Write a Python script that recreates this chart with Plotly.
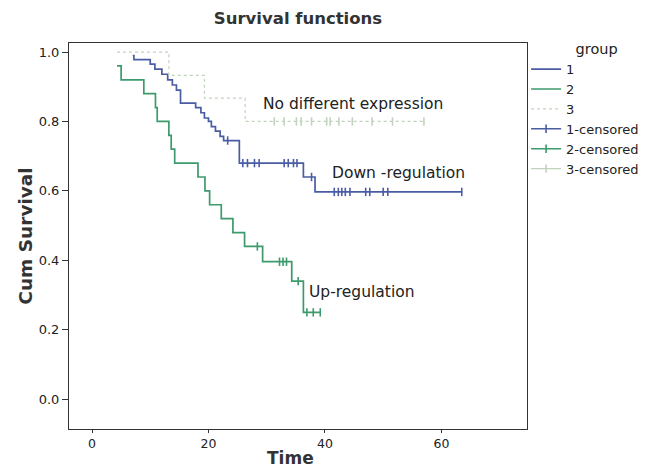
import plotly.graph_objects as go

# ---- data ----
# group 1 (Down-regulation): step times and survival after each step
g1_times = [7.0, 7.2, 10.0, 10.8, 12.0, 13.0, 13.8, 14.5, 15.2, 17.8, 18.7, 19.3, 20.0, 20.5, 21.2, 22.0, 22.6, 25.3, 36.3, 38.3, 63.5]
g1_surv = [0.99, 0.978, 0.965, 0.951, 0.936, 0.92, 0.905, 0.89, 0.853, 0.84, 0.825, 0.81, 0.80, 0.785, 0.772, 0.757, 0.745, 0.68, 0.64, 0.597, 0.597]
g1_cens_t = [23.3, 25.9, 26.7, 27.9, 28.7, 33.0, 33.7, 34.6, 35.2, 37.7,
             41.6, 42.3, 42.9, 43.5, 44.3, 47.0, 47.7, 50.0, 50.8, 63.5]
g1_cens_s = [0.745, 0.68, 0.68, 0.68, 0.68, 0.68, 0.68, 0.68, 0.68, 0.64,
             0.597, 0.597, 0.597, 0.597, 0.597, 0.597, 0.597, 0.597, 0.597, 0.597]

# group 2 (Up-regulation)
g2_times = [4.3, 5.0, 8.9, 10.9, 11.2, 13.2, 13.6, 14.2, 18.2, 19.4, 20.2, 22.2, 24.2, 26.2, 29.3, 34.3, 36.3, 39.2]
g2_surv = [0.96, 0.92, 0.88, 0.84, 0.80, 0.76, 0.72, 0.68, 0.64, 0.60, 0.56, 0.52, 0.48, 0.44, 0.396, 0.34, 0.25, 0.25]
g2_cens_t = [28.4, 32.2, 32.8, 33.4, 35.4, 36.9, 38.0, 39.2]
g2_cens_s = [0.44, 0.396, 0.396, 0.396, 0.34, 0.25, 0.25, 0.25]

# group 3 (No different expression)
g3_times = [4.3, 13.2, 19.3, 26.3, 57.0]
g3_surv = [1.0, 0.933, 0.867, 0.80, 0.80]
g3_cens_t = [31.3, 33.0, 35.1, 35.9, 37.7, 40.3, 40.9, 42.4, 44.7, 48.1, 51.6, 57.0]
g3_cens_s = [0.80] * 12

x_ticks = [0, 20, 40, 60]
y_ticks = [0.0, 0.2, 0.4, 0.6, 0.8, 1.0]

labels = {"g3": "No different expression", "g1": "Down -regulation", "g2": "Up-regulation"}
x_title = "Time"
y_title = "Cum Survival"

BLUE = "#4a5da3"
GREEN = "#3d9a6c"
GRAY = "#c2d3bd"
FONT = "DejaVu Sans"


def isolated(xs, ys):
    ox, oy = [], []
    for a, b in zip(xs, ys):
        ox += [a, None]
        oy += [b, None]
    return ox, oy


fig = go.Figure()
fig.add_trace(go.Scatter(x=g1_times, y=g1_surv, mode="lines", line=dict(color=BLUE, width=1.7, shape="hv"), name="1"))
fig.add_trace(go.Scatter(x=g2_times, y=g2_surv, mode="lines", line=dict(color=GREEN, width=1.7, shape="hv"), name="2"))
fig.add_trace(go.Scatter(x=g3_times, y=g3_surv, mode="lines", line=dict(color=GRAY, width=1.2, shape="hv", dash="dot"), name="3"))

for xs, ys, col, nm in [(g1_cens_t, g1_cens_s, BLUE, "1-censored"),
                        (g2_cens_t, g2_cens_s, GREEN, "2-censored"),
                        (g3_cens_t, g3_cens_s, GRAY, "3-censored")]:
    cx, cy = isolated(xs, ys)
    fig.add_trace(go.Scatter(x=cx, y=cy, mode="lines+markers", connectgaps=False,
                             line=dict(color=col, width=1.4),
                             marker=dict(symbol="line-ns-open", size=6, line=dict(color=col, width=1.6)),
                             name=nm))

# curve labels
ann_font = dict(family=FONT, size=15.5, color="#222")
fig.add_annotation(x=44.8, y=0.850, text=labels["g3"], showarrow=False, font=ann_font)
fig.add_annotation(x=52.6, y=0.651, text=labels["g1"], showarrow=False, font=ann_font)
fig.add_annotation(x=46.4, y=0.308, text=labels["g2"], showarrow=False, font=ann_font)

# x-axis title (placed as annotation so it sits just left of centre like the reference)
fig.add_annotation(xref="paper", yref="paper", x=0.4847, y=-0.074, xanchor="center", yanchor="middle",
                   text="<b>" + x_title + "</b>", showarrow=False,
                   font=dict(family=FONT, size=17, color="#333"))

fig.update_layout(
    width=661, height=467,
    margin=dict(l=69, r=134, t=43, b=38, autoexpand=False),
    paper_bgcolor="white", plot_bgcolor="white",
    font=dict(family=FONT, size=12, color="#222"),
    title=dict(text="<b>Survival functions</b>", xref="paper", x=0.5, xanchor="center",
               yref="container", y=0.962, yanchor="middle",
               font=dict(family=FONT, size=16.5, color="#333")),
    legend=dict(title=dict(text="\u00a0\u00a0\u00a0\u00a0\u00a0group", side="top center",
                           font=dict(family=FONT, size=14.5, color="#222")),
                x=0.998, xanchor="left", y=1.02, yanchor="top",
                font=dict(family=FONT, size=13, color="#222"),
                tracegroupgap=0, itemwidth=30, bgcolor="rgba(0,0,0,0)"),
    showlegend=True,
)
fig.update_xaxes(range=[-3.95, 74.7], tickvals=x_ticks, ticks="outside", ticklen=3, tickcolor="#333",
                 showline=True, linecolor="#333", linewidth=1, mirror=True, showgrid=False, zeroline=False,
                 automargin=False,
                 tickfont=dict(family=FONT, size=12.5, color="#222"))
fig.update_yaxes(range=[-0.086, 1.026], tickvals=y_ticks, tickformat=".1f", ticks="outside", ticklen=6, tickcolor="#333",
                 showline=True, linecolor="#333", linewidth=1, mirror=True, showgrid=False, zeroline=False,
                 automargin=False,
                 tickfont=dict(family=FONT, size=13, color="#222"),
                 title=dict(text="<b>" + y_title + "</b>", font=dict(family=FONT, size=18.5, color="#333"), standoff=1))

fig.write_html("out.html", config={"displayModeBar": False},
               post_script="document.body.style.margin='0px';document.body.style.overflow='hidden';")
